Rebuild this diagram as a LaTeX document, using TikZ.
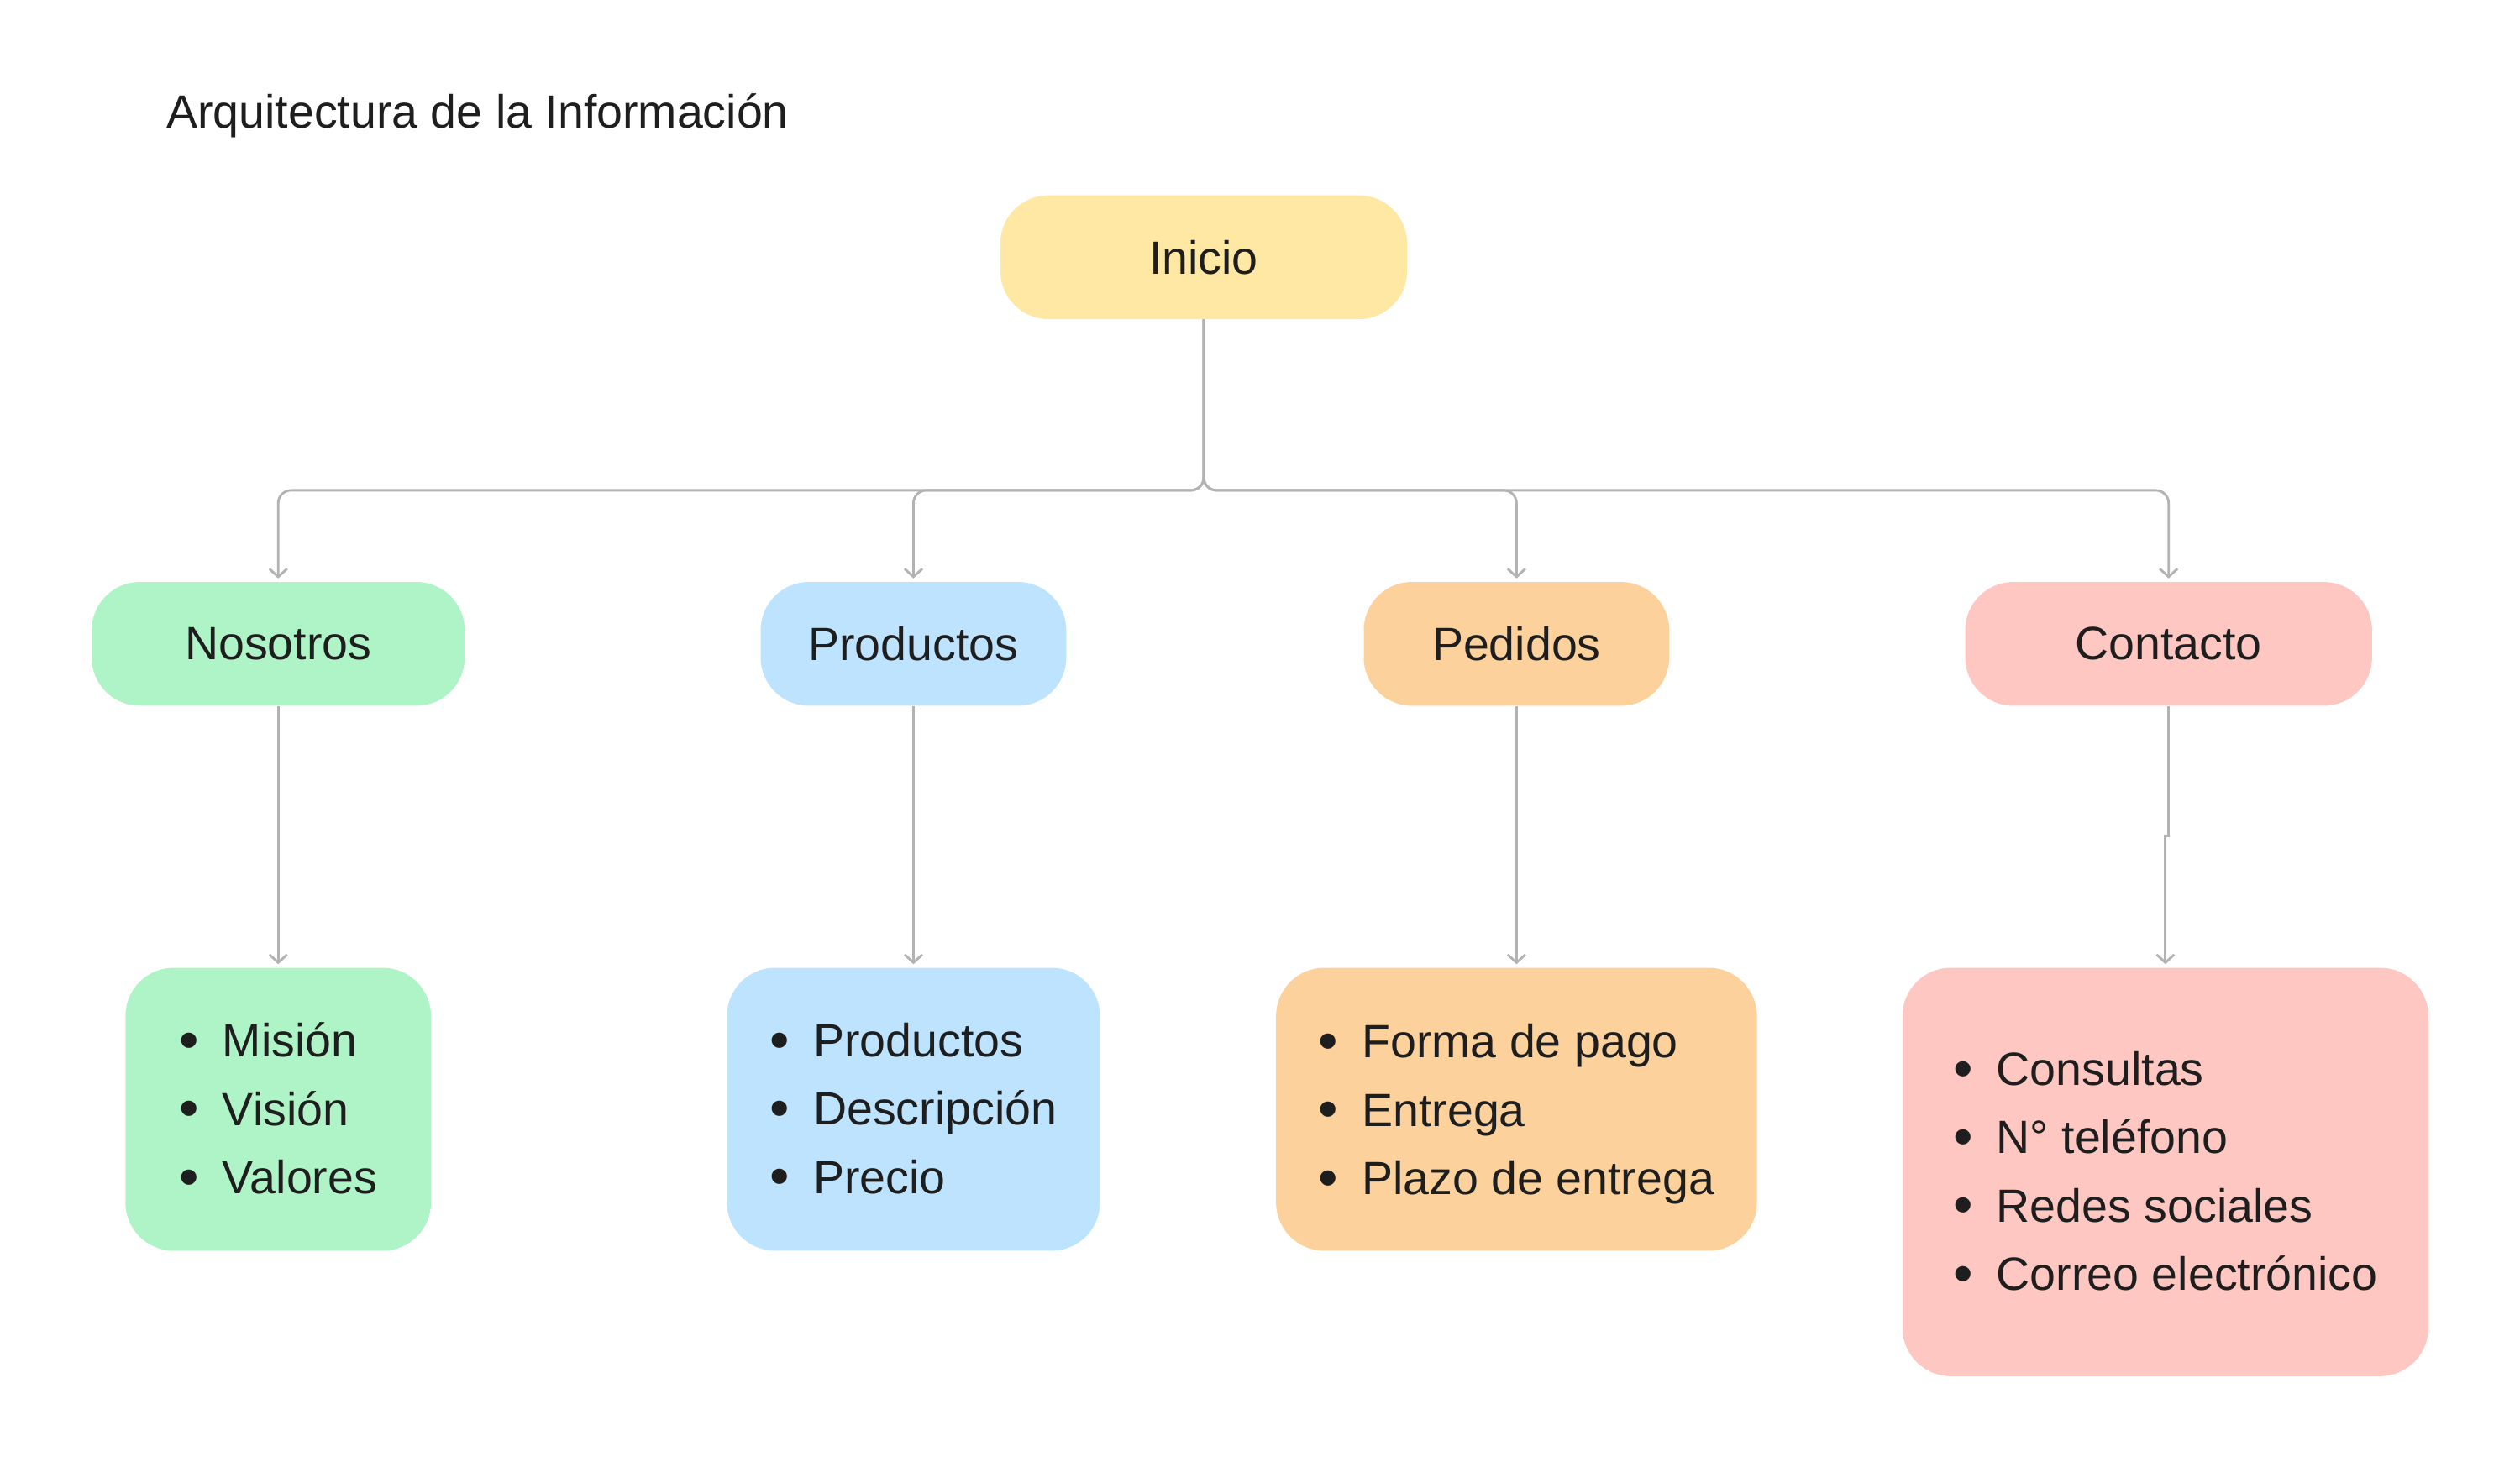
\documentclass[tikz,border=0pt]{standalone}
\usepackage{fontspec}
\setmainfont{Liberation Sans}
\usepackage{xcolor}
\usetikzlibrary{arrows.meta,positioning}

\definecolor{amarillo}{HTML}{FFE8A3}
\definecolor{verde}{HTML}{AFF4C6}
\definecolor{azul}{HTML}{BDE3FF}
\definecolor{naranja}{HTML}{FCD19C}
\definecolor{rojo}{HTML}{FFC7C2}
\definecolor{linea}{HTML}{B3B3B3}
\definecolor{tinta}{HTML}{1E1E1E}

\newcommand{\punto}{\makebox[27pt][l]{\raisebox{-1.5pt}{\fontsize{35}{35}\selectfont\textbullet}}}

\begin{document}
\begin{tikzpicture}[x=1pt,y=-1pt,
    caja/.style={rounded corners=30pt, minimum height=77pt, inner sep=0pt, text=tinta, font=\fontsize{29}{35}\selectfont},
    lista/.style={rounded corners=30pt, inner sep=0pt, align=left, text=tinta, font=\fontsize{29}{42.5}\selectfont},
    flecha/.style={-{Straight Barb[length=5pt,width=11pt]}, line width=1.5pt, draw=linea, shorten >=2pt}]
    \useasboundingbox (0,0) rectangle (1567,912);
    % titulo
    \node[anchor=base west, text=tinta, font=\fontsize{29}{35}\selectfont] (titulo) at (100,79.5) {Arquitectura de la Información};
    % inicio y secciones
    \node[caja, fill=amarillo, minimum width=253pt] (inicio) at (748.5,160) {Inicio};
    \foreach \x/\w/\c/\nombre/\texto in {173/232/verde/nos/Nosotros, 568/190/azul/prod/Productos, 943/190/naranja/ped/Pedidos, 1348.5/253/rojo/cont/Contacto}{
        \node[caja, fill=\c, minimum width=\w pt] (\nombre) at (\x,400.5) {\texto};
        \draw[flecha, rounded corners=8pt] (inicio.south) -- (748.5,305) -| (\nombre.north);
    }
    % listas
    \node[lista, fill=verde, minimum width=190pt, minimum height=176pt] (nosl) at (173,690) {\punto Misión\\\punto Visión\\\punto Valores};
    \node[lista, fill=azul, minimum width=232pt, minimum height=176pt] (prodl) at (568,690) {\punto Productos\\\punto Descripción\\\punto Precio};
    \node[lista, fill=naranja, minimum width=299pt, minimum height=176pt] (pedl) at (943,690) {\punto Forma de pago\\\punto Entrega\\\smash{\punto Plazo de entrega}};
    \node[lista, fill=rojo, minimum width=327pt, minimum height=254pt] (contl) at (1346.5,729) {\punto Consultas\\\punto N° teléfono\\\punto Redes sociales\\\punto Correo electrónico};
    \draw[flecha] (nos.south) -- (nosl.north);
    \draw[flecha] (prod.south) -- (prodl.north);
    \draw[flecha] (ped.south) -- (pedl.north);
    \draw[flecha] (cont.south) -- ++(0,81) -| (contl.north);
\end{tikzpicture}
\end{document}
